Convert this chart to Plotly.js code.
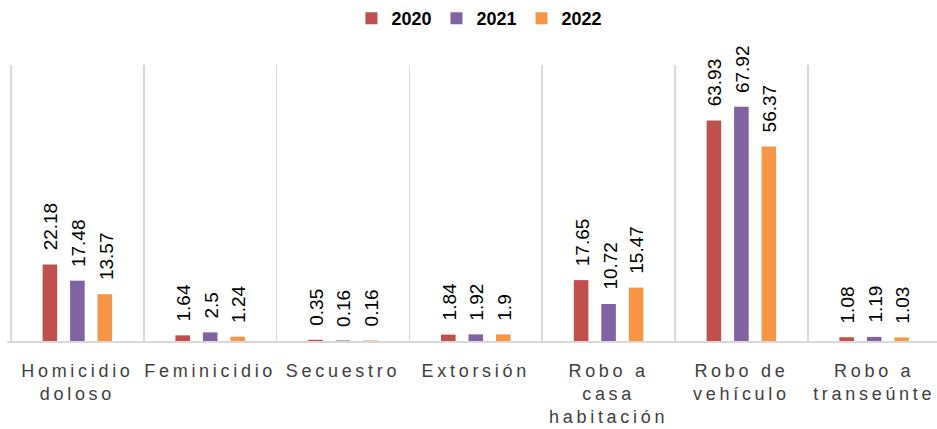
<!DOCTYPE html>
<html><head><meta charset="utf-8">
<script src="https://cdn.plot.ly/plotly-3.0.1.min.js"></script>
<style>
html,body{margin:0;padding:0;background:#fff;}
#chart{width:937px;height:429px;}
.xtick text{letter-spacing:3.7px;}
</style>
</head><body>
<div id="chart"></div>
<script>
const categories = ["Homicidio<br>doloso","Feminicidio","Secuestro","Extorsión","Robo a<br>casa<br>habitación","Robo de<br>vehículo","Robo a<br>transeúnte"];
const seriesNames = ["2020","2021","2022"];
const values2020 = [22.18, 1.64, 0.35, 1.84, 17.65, 63.93, 1.08];
const values2021 = [17.48, 2.5, 0.16, 1.92, 10.72, 67.92, 1.19];
const values2022 = [13.57, 1.24, 0.16, 1.9, 15.47, 56.37, 1.03];
const colors = ["#C0504D","#8064A2","#F79646"];

const W = 937, H = 429;
const margin = {l:7, r:0, t:65, b:88};
const xRange = [-0.530, 6.473];
const bargap = 0.379, bargroupgap = 0.47;
const pxPerCat = (W - margin.l - margin.r) / (xRange[1] - xRange[0]);
const slotPx = pxPerCat * (1 - bargap) / 3;

const allValues = [values2020, values2021, values2022];
const traces = allValues.map((v,i)=>({
  type:"bar",
  name: seriesNames[i],
  x: categories,
  y: v,
  marker:{color:colors[i]},
  hoverinfo:"x+y"
}));

const annotations = [];
allValues.forEach((v,i)=>{
  v.forEach((val,j)=>{
    annotations.push({
      x: categories[j], y: val, xref:"x", yref:"y",
      text: String(val), showarrow:false, textangle:-90,
      xanchor:"center", yanchor:"bottom",
      xshift:(i-1)*slotPx + 1, yshift:12,
      font:{family:"Liberation Sans, Arial, sans-serif", size:19, color:"#000"}
    });
  });
});

const layout = {
  width:W, height:H,
  margin:margin,
  paper_bgcolor:"#fff", plot_bgcolor:"#fff",
  barmode:"group",
  bargap:bargap,
  bargroupgap:bargroupgap,
  showlegend:true,
  legend:{orientation:"h", x:0.508, xanchor:"center", y:1.17, yanchor:"middle",
    font:{family:"Liberation Sans, Arial, sans-serif", size:18, color:"#000", weight:"bold"},
    itemwidth:30, tracegroupgap:0},
  annotations:annotations,
  xaxis:{
    tickson:"boundaries",
    range:xRange,
    showgrid:true, gridcolor:"#d9d9d9", gridwidth:1.5,
    showline:true, linecolor:"#d9d9d9", linewidth:2,
    ticks:"", ticklabelstandoff:12,
    tickfont:{family:"Liberation Sans, Arial, sans-serif", size:18, color:"#404040"},
    fixedrange:true
  },
  yaxis:{range:[0,80], showgrid:false, zeroline:false, showticklabels:false, showline:false, ticks:"", fixedrange:true},
  font:{family:"Liberation Sans, Arial, sans-serif"}
};
Plotly.newPlot("chart", traces, layout, {displayModeBar:false, staticPlot:true});
</script>
</body></html>
